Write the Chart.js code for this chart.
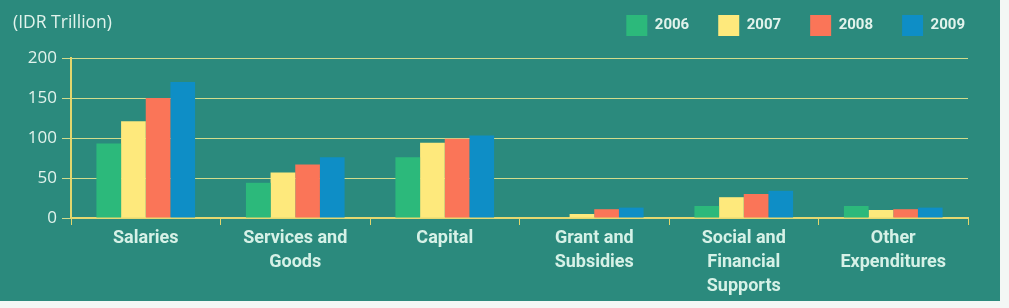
<!DOCTYPE html>
<html>
<head>
    <title>Expenditures</title>
    <script src="https://cdn.jsdelivr.net/npm/chart.js"></script>
    <style>
        body { margin: 0; background: #f3f7f5; }
        #box { position: relative; width: 1000px; height: 301px; background: #2b8a7d; overflow: hidden; }
        #unit { position: absolute; left: 13px; top: 9px; font: 17.5px "Open Sans", sans-serif; color: #e2f3ec; }
    </style>
</head>
<body>
    <div id="box">
        <div id="unit">(IDR Trillion)</div>
        <canvas id="chart" width="1000" height="301"></canvas>
    </div>

    <script>
        // categorias e valores
        const categories = [
            'Salaries',
            ['Services and', 'Goods'],
            'Capital',
            ['Grant and', 'Subsidies'],
            ['Social and', 'Financial', 'Supports'],
            ['Other', 'Expenditures']
        ];
        const years = ['2006', '2007', '2008', '2009'];
        const values2006 = [93, 44, 76, 0, 15, 15];
        const values2007 = [121, 57, 94, 5, 26, 10];
        const values2008 = [150, 67, 99, 11, 30, 11];
        const values2009 = [170, 76, 103, 13, 34, 13];
        const yTicks = [0, 50, 100, 150, 200];

        const colors = ['#2cb97b', '#fee97c', '#fa7558', '#0e8ec6'];
        const series = [values2006, values2007, values2008, values2009];

        const ctx = document.getElementById('chart').getContext('2d');
        new Chart(ctx, {
            type: 'bar',
            data: {
                labels: categories,
                datasets: series.map((vals, i) => ({
                    label: years[i],
                    data: vals,
                    backgroundColor: colors[i],
                    borderWidth: 0,
                    categoryPercentage: 0.66,
                    barPercentage: 1
                }))
            },
            options: {
                responsive: false,
                animation: false,
                layout: { padding: { top: -14, right: 6, left: 0, bottom: 0 } },
                plugins: {
                    // título vazio, só como espaço entre a legenda e o gráfico
                    title: {
                        display: true,
                        text: '',
                        weight: 500,
                        font: { size: 1, lineHeight: 1 },
                        padding: { top: 0, bottom: 11 }
                    },
                    legend: {
                        position: 'top',
                        align: 'end',
                        labels: {
                            boxWidth: 21,
                            boxHeight: 21,
                            padding: 29,
                            color: '#e2f3ec',
                            font: { family: 'Roboto', size: 15, weight: 'bold' }
                        }
                    },
                    tooltip: { enabled: false }
                },
                scales: {
                    x: {
                        grid: {
                            drawOnChartArea: false,
                            color: '#e3d66c',
                            tickLength: 7,
                            lineWidth: 1
                        },
                        border: { color: '#e6d870', width: 2 },
                        ticks: {
                            color: '#d6f1e7',
                            padding: 2,
                            font: { family: 'Roboto', size: 18, weight: 'bold', lineHeight: 1.333 },
                            maxRotation: 0
                        },
                        afterFit: (axis) => { axis.height = 83; }
                    },
                    y: {
                        min: 0,
                        max: 200,
                        afterBuildTicks: (axis) => { axis.ticks = yTicks.map(v => ({ value: v })); },
                        grid: { color: '#d2dc8c', tickLength: 9, lineWidth: 1 },
                        border: { color: '#e3d66c', width: 2 },
                        ticks: {
                            color: '#e2f3ec',
                            padding: 5,
                            font: { family: 'Open Sans', size: 17 }
                        },
                        afterFit: (axis) => { axis.width = 71; }
                    },
                    // eixo vazio só para afastar a área do gráfico da borda direita
                    yRight: {
                        position: 'right',
                        display: true,
                        grid: { display: false },
                        border: { display: false },
                        ticks: { display: false },
                        afterFit: (axis) => { axis.width = 26; }
                    }
                }
            }
        });
    </script>
</body>
</html>
